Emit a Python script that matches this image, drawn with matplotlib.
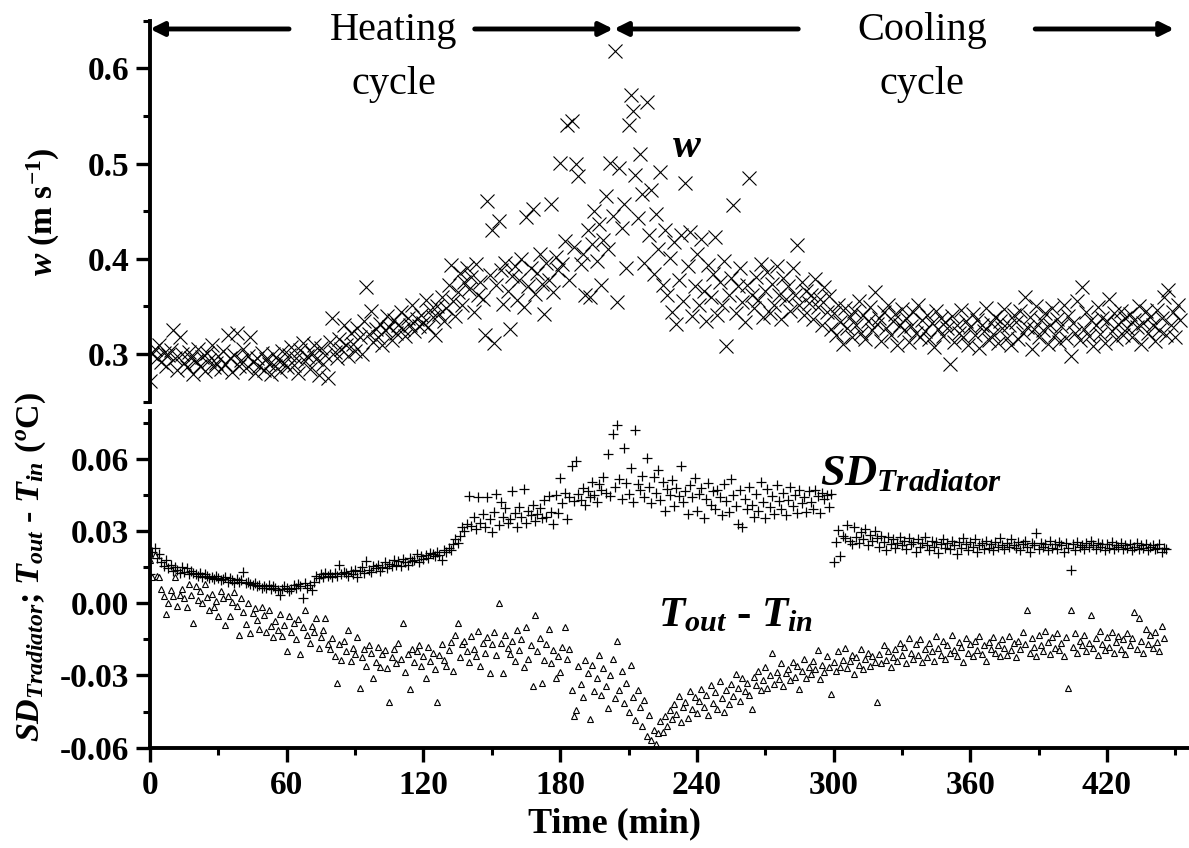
import numpy as np
import matplotlib
matplotlib.use('Agg')
import matplotlib.pyplot as plt
from matplotlib.ticker import MultipleLocator, FormatStrFormatter

plt.rcParams['font.family'] = 'Liberation Serif'
plt.rcParams['axes.unicode_minus'] = False
plt.rcParams['mathtext.fontset'] = 'custom'
plt.rcParams['mathtext.rm'] = 'Liberation Serif:bold'
plt.rcParams['mathtext.bf'] = 'Liberation Serif:bold'
plt.rcParams['mathtext.it'] = 'Liberation Serif:bold:italic'

# w (m/s), one value per minute from t = 0, in units of 0.001
w_milli = [
    272, 300, 305, 296, 310, 292, 301, 288, 299, 304,
    325, 296, 283, 318, 300, 291, 286, 302, 296, 279,
    293, 305, 288, 297, 282, 301, 294, 310, 286, 291,
    298, 284, 303, 290, 320, 296, 281, 299, 322, 288,
    294, 305, 285, 298, 318, 292, 280, 296, 287, 301,
    283, 295, 290, 279, 300, 288, 294, 282, 303, 291,
    286, 299, 307, 289, 296, 280, 304, 312, 293, 298,
    284, 301, 310, 295, 278, 306, 290, 299, 275, 313,
    338, 302, 296, 316, 305, 330, 309, 298, 322, 311,
    303, 327, 318, 300, 335, 370, 321, 345, 313, 326,
    318, 332, 309, 325, 340, 328, 315, 336, 322, 330,
    344, 326, 319, 338, 331, 352, 324, 337, 329, 341,
    333, 357, 328, 346, 339, 320, 350, 342, 360, 335,
    348, 372, 394, 356, 340, 365, 385, 352, 376, 390,
    368, 381, 344, 395, 362, 376, 358, 320, 461, 383,
    430, 312, 372, 440, 388, 353, 396, 366, 326, 382,
    392, 357, 378, 400, 349, 444, 371, 390, 452, 363,
    385, 405, 374, 342, 396, 378, 458, 365, 402, 388,
    501, 395, 419, 540, 378, 545, 412, 500, 487, 395,
    405, 362, 430, 360, 416, 450, 398, 437, 372, 420,
    466, 410, 501, 445, 618, 355, 495, 432, 458, 390,
    540, 572, 555, 488, 443, 510, 468, 396, 565, 425,
    472, 384, 447, 410, 491, 372, 430, 362, 401, 344,
    418, 332, 378, 425, 356, 480, 392, 428, 340, 371,
    405, 352, 421, 366, 335, 394, 360, 384, 423, 341,
    376, 352, 398, 308, 362, 380, 456, 343, 371, 390,
    355, 334, 372, 485, 362, 348, 381, 357, 395, 339,
    366, 386, 343, 374, 351, 392, 362, 337, 380, 358,
    371, 345, 390, 362, 415, 352, 376, 341, 366, 354,
    362, 337, 379, 349, 358, 331, 370, 344, 361, 326,
    343, 320, 352, 334, 311, 348, 327, 339, 318, 345,
    330, 356, 322, 341, 316, 335, 349, 325, 365, 332,
    338, 314, 344, 327, 351, 320, 335, 342, 310, 331,
    347, 325, 338, 313, 329, 344, 322, 352, 318, 336,
    324, 341, 316, 333, 307, 345, 326, 338, 319, 334,
    327, 290, 340, 313, 331, 322, 346, 318, 335, 309,
    328, 342, 320, 336, 306, 330, 324, 348, 315, 333,
    321, 339, 312, 335, 327, 347, 317, 330, 309, 341,
    334, 316, 345, 322, 360, 328, 339, 305, 326, 350,
    318, 336, 325, 343, 311, 331, 348, 320, 337, 313,
    329, 352, 317, 340, 298, 333, 322, 356, 315, 370,
    326, 344, 319, 336, 308, 330, 349, 321, 338, 312,
    335, 358, 324, 343, 316, 332, 345, 320, 338, 327,
    342, 318, 336, 328, 350, 311, 333, 345, 322, 339,
    330, 314, 346, 325, 338, 360, 320, 367, 331, 344,
    318, 352, 336,
]

# SD of radiator temperature (degC), one value per minute, units of 0.001
sd_milli = [
    12.0, 21.5, 23.0, 19.0, 20.5, 17.0, 15.5, 18.0, 14.5, 16.0,
    13.5, 15.0, 14.0, 12.5, 15.0, 13.0, 14.5, 12.0, 13.5, 12.5,
    12.0, 11.5, 12.5, 11.0, 12.0, 11.5, 10.5, 11.0, 10.0, 11.5,
    10.5, 9.5, 10.0, 11.0, 9.0, 10.5, 9.5, 8.5, 10.0, 9.0,
    9.5, 13.0, 8.5, 9.0, 8.0, 7.5, 8.5, 7.0, 7.5, 6.5,
    7.0, 6.5, 7.5, 6.0, 7.0, 6.5, 5.5, 3.5, 6.0, 7.0,
    6.5, 5.0, 6.0, 7.5, 6.5, 8.0, 7.0, 2.0, 8.5, 6.5,
    7.5, 5.5, 9.0, 11.5, 10.5, 12.0, 11.0, 12.5, 11.5, 12.0,
    11.0, 12.5, 11.5, 16.0, 12.0, 13.0, 12.5, 11.5, 13.5, 12.0,
    14.0, 11.0, 13.5, 15.0, 12.5, 17.5, 14.0, 13.0, 15.5, 14.5,
    16.0, 13.5, 15.0, 17.0, 14.5, 16.5, 15.5, 18.0, 16.0, 17.5,
    15.5, 18.5, 17.0, 16.0, 19.0, 17.5, 18.0, 20.5, 17.0, 19.5,
    18.5, 20.0, 19.0, 21.0, 20.5, 19.5, 21.5, 20.0, 18.0, 22.0,
    21.5, 23.0, 22.0, 24.5, 26.5, 25.0, 28.0, 31.5, 30.0, 33.0,
    44.5, 32.0, 36.0, 31.0, 44.0, 33.5, 37.0, 31.5, 44.0, 35.0,
    29.5, 38.0, 45.5, 32.5, 42.0, 36.0, 39.5, 33.5, 35.0, 46.5,
    37.5, 31.5, 40.0, 36.0, 47.5, 33.5, 38.5, 36.5, 41.0, 34.0,
    37.0, 39.5, 35.5, 43.0, 36.0, 44.5, 38.0, 33.0, 45.0, 37.5,
    52.0, 41.5, 46.0, 35.0, 44.0, 57.0, 42.5, 59.0, 45.5, 43.0,
    48.0, 41.0, 46.5, 44.0, 50.5, 45.0, 42.0, 49.5, 47.0, 52.5,
    46.0, 62.0, 44.5, 70.5, 48.5, 74.0, 51.5, 43.5, 64.5, 50.0,
    45.5, 56.0, 42.0, 72.0, 49.5, 47.0, 53.0, 44.0, 60.5, 48.5,
    41.5, 52.5, 46.0, 55.5, 43.0, 50.5, 38.5, 47.5, 45.0, 51.0,
    40.5, 48.0, 44.5, 57.0, 42.0, 46.5, 37.0, 49.0, 44.0, 52.0,
    38.5, 45.5, 48.0, 35.5, 43.5, 50.0, 41.0, 46.5, 39.0, 47.0,
    44.0, 36.5, 49.5, 42.5, 38.0, 51.5, 45.0, 40.5, 33.0, 47.0,
    31.5, 43.5, 39.0, 48.5, 41.0, 36.0, 45.5, 38.5, 50.5, 42.0,
    35.5, 47.5, 40.0, 44.5, 37.0, 49.0, 42.5, 39.0, 46.0, 36.5,
    43.0, 48.5, 40.5, 45.0, 37.5, 47.0, 41.5, 44.0, 38.0, 46.5,
    42.0, 39.0, 47.0, 44.5, 37.5, 46.0, 43.5, 45.0, 40.0, 45.5,
    17.0, 25.5, 30.5, 19.5, 28.0, 27.0, 32.5, 26.0, 24.5, 31.5,
    27.5, 25.0, 29.5, 26.5, 31.0, 24.0, 28.5, 26.0, 30.0, 27.0,
    23.5, 28.0, 25.5, 22.0, 27.5, 24.5, 26.5, 23.0, 25.0, 27.5,
    24.0, 26.0, 22.5, 27.0, 24.5, 25.5, 21.5, 26.5, 23.5, 25.0,
    27.5, 24.0, 22.0, 26.0, 23.5, 25.5, 21.0, 24.5, 26.5, 23.0,
    25.0, 22.5, 26.0, 24.0, 20.5, 25.5, 23.0, 27.0, 24.5, 22.0,
    25.5, 23.5, 26.5, 21.5, 24.0, 25.0, 22.5, 26.0, 23.0, 24.5,
    22.0, 25.5, 23.5, 27.0, 24.0, 22.5, 25.0, 23.5, 26.5, 24.0,
    23.0, 25.5, 22.0, 24.5, 26.0, 23.5, 21.5, 25.0, 24.0, 29.0,
    22.5, 25.0, 23.5, 24.5, 22.0, 26.0, 23.0, 24.5, 22.5, 25.5,
    24.0, 21.5, 25.0, 23.0, 14.0, 24.5, 22.0, 25.5, 23.5, 24.0,
    22.5, 25.0, 23.5, 26.0, 24.0, 22.5, 25.0, 23.5, 24.5, 22.0,
    24.5, 23.0, 25.5, 22.5, 24.0, 23.5, 25.0, 22.5, 24.0, 23.0,
    24.5, 22.0, 23.5, 25.0, 22.5, 24.0, 23.0, 24.5, 22.0, 23.5,
    24.0, 22.5, 23.0, 24.5, 21.5, 23.0, 22.5,
]

# T_out - T_in (degC), one value per minute, units of 0.001
dt_milli = [
    18.0, 11.0, 20.0, 11.5, 11.0, 6.0, 3.0, -4.5, 0.0, 5.5,
    3.0, 11.0, -1.0, 3.5, 6.0, 2.0, -1.5, 8.0, 3.5, -8.0,
    7.0, 1.5, 5.0, 0.0, 8.0, 2.5, -3.0, 4.0, -1.5, 1.0,
    -5.5, 5.0, 2.0, -9.0, 3.0, -5.5, 0.5, 4.5, -1.0, -13.0,
    2.0, -3.5, -8.5, 0.0, -12.5, -4.0, -2.0, -7.0, -10.5, -1.5,
    -5.0, -12.0, -3.0, -9.5, -14.0, -7.5, -11.0, -4.5, -13.5, -9.0,
    -20.0, -5.5, -12.0, -8.0, -15.0, -6.5, -21.0, -10.0, -3.0, -13.0,
    -16.5, -9.5, -12.0, -6.0, -18.5, -14.0, -11.0, -6.0, -17.0, -19.0,
    -14.5, -22.0, -33.0, -17.0, -23.5, -15.5, -20.0, -11.0, -24.0, -18.5,
    -21.0, -14.0, -35.0, -22.5, -19.0, -26.0, -17.5, -20.5, -31.0, -24.5,
    -18.0, -26.5, -21.0, -19.5, -27.0, -41.0, -22.5, -19.0, -25.0, -16.5,
    -23.0, -8.0, -28.5, -21.0, -35.5, -19.0, -24.5, -20.0, -17.5, -26.0,
    -22.0, -31.0, -18.0, -24.0, -20.5, -27.5, -41.0, -21.5, -17.0, -23.5,
    -26.0, -19.5, -16.0, -28.0, -13.0, -8.0, -22.5, -17.0, -15.5, -20.0,
    -24.5, -13.5, -19.0, -22.0, -11.5, -26.0, -16.5, -20.5, -14.0, -29.0,
    -17.0, -12.0, -21.5, 0.0, -16.5, -29.0, -13.0, -18.5, -21.0, -15.5,
    -24.0, -11.0, -19.5, -15.0, -26.5, -10.0, -23.0, -17.5, -34.5, -5.0,
    -20.0, -14.5, -33.0, -23.5, -17.0, -10.5, -25.0, -19.5, -31.0, -22.0,
    -28.5, -18.0, -10.0, -23.0, -19.0, -36.0, -47.0, -44.5, -26.0, -33.5,
    -39.0, -23.5, -29.0, -48.0, -25.5, -36.5, -31.0, -21.5, -38.0, -27.0,
    -34.5, -43.5, -30.0, -23.0, -39.5, -15.5, -36.0, -28.0, -41.5, -33.0,
    -45.0, -25.5, -39.0, -48.5, -36.0, -43.0, -51.0, -40.0, -55.0, -46.5,
    -57.0, -52.5, -58.5, -54.0, -49.0, -53.5, -47.0, -51.0, -44.5, -48.0,
    -42.0, -46.0, -38.5, -49.5, -43.0, -41.0, -47.5, -36.5, -44.0, -39.0,
    -45.5, -40.5, -35.5, -43.0, -38.0, -46.5, -34.0, -41.5, -37.0, -44.0,
    -32.5, -39.5, -45.0, -36.0, -42.0, -33.5, -38.5, -29.5, -35.0, -40.5,
    -31.0, -36.5, -33.0, -38.0, -44.0, -30.5, -34.0, -28.0, -36.0, -32.0,
    -26.5, -35.0, -30.0, -20.5, -33.5, -28.5, -31.5, -25.0, -34.5, -29.0,
    -27.5, -32.0, -24.5, -30.5, -26.0, -35.5, -28.0, -23.0, -31.0, -26.5,
    -29.5, -24.0, -27.5, -19.5, -31.5, -25.5, -28.5, -22.0, -26.5, -37.5,
    -24.5, -28.0, -20.0, -26.5, -23.5, -18.5, -27.0, -24.0, -21.5, -29.5,
    -22.5, -25.5, -19.0, -27.5, -23.0, -20.5, -26.0, -22.0, -24.5, -41.0,
    -21.0, -25.0, -17.5, -23.5, -20.0, -26.5, -22.5, -19.0, -24.0, -16.5,
    -21.5, -18.0, -25.0, -14.5, -20.5, -23.0, -17.0, -21.5, -15.0, -24.5,
    -19.0, -22.5, -16.5, -20.0, -24.0, -13.5, -18.5, -21.5, -15.5, -23.0,
    -17.5, -20.5, -13.0, -19.5, -22.0, -16.0, -18.0, -24.5, -14.5, -20.5,
    -17.0, -22.0, -15.5, -19.5, -13.5, -21.0, -17.5, -24.0, -16.0, -19.0,
    -14.0, -20.5, -17.5, -22.0, -15.0, -18.5, -21.5, -13.5, -19.5, -16.5,
    -22.5, -15.5, -19.0, -12.0, -17.0, -3.0, -20.5, -14.5, -18.0, -22.0,
    -13.0, -17.5, -20.0, -11.5, -16.0, -21.0, -14.0, -18.5, -12.5, -19.5,
    -16.5, -22.0, -14.0, -35.0, -3.0, -18.0, -12.5, -20.5, -15.5, -17.5,
    -13.0, -20.0, -16.5, -5.0, -18.5, -14.5, -21.5, -11.5, -17.0, -19.5,
    -14.0, -18.0, -12.0, -20.5, -16.0, -13.5, -19.0, -15.0, -21.0, -12.5,
    -17.5, -14.5, -3.5, -19.0, -6.0, -15.5, -20.5, -10.5, -17.0, -13.0,
    -18.5, -12.0, -16.0, -20.0, -9.5, -14.5,
]

w = np.array(w_milli) / 1000.0
sd = np.array(sd_milli) / 1000.0
dt = np.array(dt_milli) / 1000.0
t_w = np.arange(len(w))
t_sd = np.arange(len(sd))
t_dt = np.arange(len(dt))

fig = plt.figure(figsize=(11.89, 8.48), dpi=100)
ax1 = fig.add_axes([0.1262, 0.5263, 0.8738, 0.4493])
ax2 = fig.add_axes([0.1262, 0.1183, 0.8738, 0.3974])

ax1.plot(t_w, w, ls='none', marker='x', ms=9.5, mew=0.8, color='k')
ax2.plot(t_sd, sd, ls='none', marker='+', ms=7, mew=0.9, color='k')
ax2.plot(t_dt, dt, ls='none', marker='^', ms=5, mew=0.8, mfc='white', mec='k')

for ax in (ax1, ax2):
    ax.set_xlim(0, 456)
    ax.spines['top'].set_visible(False)
    ax.spines['right'].set_visible(False)
    ax.spines['left'].set_linewidth(2.8)
    ax.spines['bottom'].set_linewidth(2.8)
    ax.xaxis.set_major_locator(MultipleLocator(60))
    ax.xaxis.set_minor_locator(MultipleLocator(30))
    ax.tick_params(which='major', direction='out', length=10, width=2.4,
                   labelsize=24, pad=5)
    ax.tick_params(which='minor', direction='out', length=5, width=2.2)

ax1.spines['bottom'].set_visible(False)
ax1.tick_params(axis='x', which='both', bottom=False, labelbottom=False)
ax1.set_ylim(0.25, 0.65)
ax1.yaxis.set_major_locator(MultipleLocator(0.1))
ax1.yaxis.set_minor_locator(MultipleLocator(0.05))
ax1.yaxis.set_major_formatter(FormatStrFormatter('%.1f'))

ax2.set_ylim(-0.06, 0.08)
ax2.yaxis.set_major_locator(MultipleLocator(0.03))
ax2.yaxis.set_minor_locator(MultipleLocator(0.015))
ax2.yaxis.set_major_formatter(FormatStrFormatter('%.2f'))
ax2.tick_params(axis='x', which='major', pad=6)

for ax in (ax1, ax2):
    for lab in ax.get_xticklabels() + ax.get_yticklabels():
        lab.set_fontweight('bold')

ax1.set_ylabel(r'$w$ (m s$^{-1}$)', fontsize=24, fontweight='bold')
ax1.yaxis.set_label_coords(-0.085, 0.5)
ax2.set_ylabel(r'$SD_{Tradiator}$; $T_{out}$ - $T_{in}$ ($^{o}$C)',
               fontsize=24.5, fontweight='bold')
ax2.yaxis.set_label_coords(-0.098, 0.537)
ax2.set_xlabel('Time (min)', fontsize=26, fontweight='bold')
ax2.xaxis.set_label_coords(0.4475, -0.178)

# in-plot labels
ax1.text(229, 0.507, r'$w$', fontsize=30)
ax2.text(294, 0.049, r'$SD_{Tradiator}$', fontsize=32)
ax2.text(223, -0.0097, r'$T_{out}$ - $T_{in}$', fontsize=31, fontweight='bold')

# heating / cooling cycle arrows
arrow_y = 0.6413
arrow_props = dict(arrowstyle='-|>', lw=3.5, color='k', mutation_scale=20,
                   shrinkA=0, shrinkB=0)
arrow_spans = [(61, 0), (142.5, 203.3), (284.5, 203.6), (388.5, 449.5)]
for x0, x1 in arrow_spans:
    ax1.annotate('', xy=(x1, arrow_y), xytext=(x0, arrow_y),
                 arrowprops=arrow_props, annotation_clip=False)

ax1.text(107, 0.630, 'Heating', fontsize=29, ha='center', va='baseline')
ax1.text(107, 0.573, 'cycle', fontsize=29, ha='center', va='baseline')
ax1.text(339, 0.630, 'Cooling', fontsize=29, ha='center', va='baseline')
ax1.text(339, 0.573, 'cycle', fontsize=29, ha='center', va='baseline')

fig.savefig('out.png', dpi=100)
